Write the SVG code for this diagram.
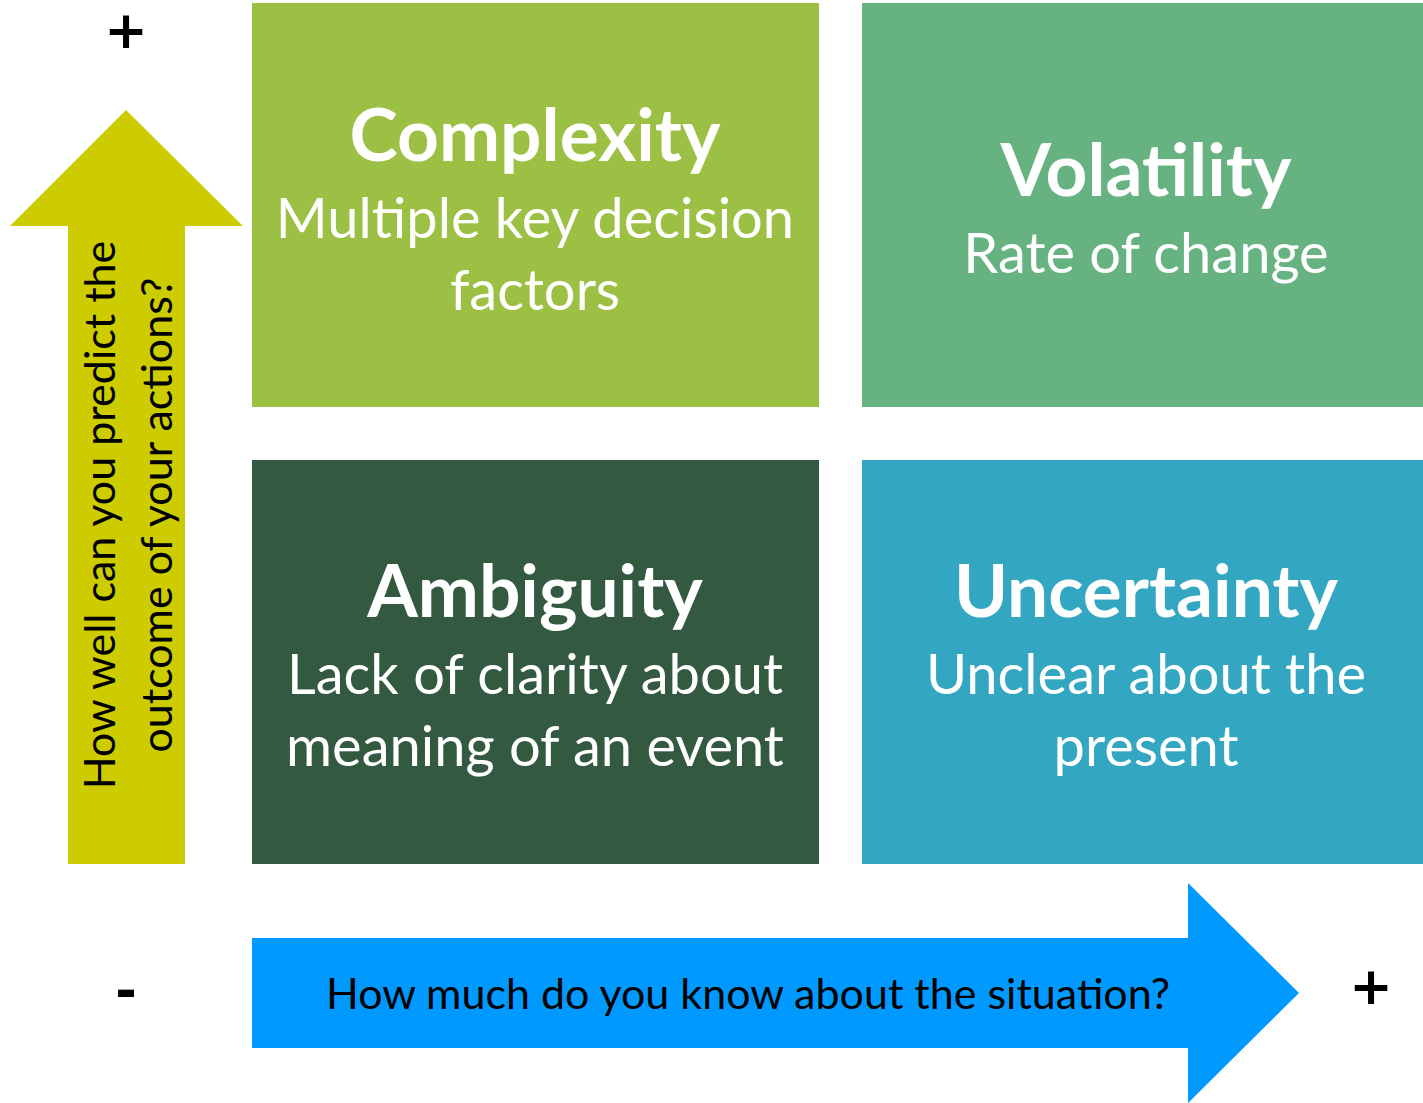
<svg xmlns="http://www.w3.org/2000/svg" width="1423" height="1103" viewBox="0 0 1423 1103">
<style>
.t{font-family:Lato,"Open Sans","Liberation Sans",sans-serif;fill:#fff;text-anchor:middle}
.h{font-weight:bold;font-size:73px}
.s{font-size:56px}
.a{font-family:Lato,"Open Sans","Liberation Sans",sans-serif;fill:#000;text-anchor:middle;font-size:43px}
.sym{font-family:"DejaVu Sans",sans-serif;font-weight:bold;fill:#000;text-anchor:middle;font-size:52px}
</style>
<rect width="1423" height="1103" fill="#fff"/>
<g id="connectors">
<g id="axis-y">
<polygon points="126,110 243,226 185,226 185,864 68,864 68,226 10,226" fill="#CCCC00"/>
<text class="a" transform="translate(115,515) rotate(-90)">How well can you predict the</text>
<text class="a" transform="translate(172,515) rotate(-90)">outcome of your actions?</text>
</g>
<g id="axis-x">
<polygon points="252,938 1188,938 1188,883 1299,993 1188,1103 1188,1048 252,1048" fill="#0099FF"/>
<text class="a" x="748" y="1009">How much do you know about the situation?</text>
</g>
</g>
<g id="labels">
<text class="sym" x="126" y="48">+</text>
<text class="sym" x="1371" y="1004">+</text>
<text class="sym" x="126" y="1008">-</text>
</g>
<g id="complexity">
<rect x="252" y="3" width="567" height="404" fill="#9BC043"/>
<text class="t h" x="535" y="161">Complexity</text>
<text class="t s" x="535" y="238">Multiple key decision</text>
<text class="t s" x="535" y="310">factors</text>
</g>
<g id="volatility">
<rect x="862" y="3" width="561" height="404" fill="#66B281"/>
<text class="t h" x="1146" y="196">Volatility</text>
<text class="t s" x="1146" y="273">Rate of change</text>
</g>
<g id="ambiguity">
<rect x="252" y="460" width="567" height="404" fill="#335940"/>
<text class="t h" x="535" y="617">Ambiguity</text>
<text class="t s" x="535" y="694">Lack of clarity about</text>
<text class="t s" x="535" y="766">meaning of an event</text>
</g>
<g id="uncertainty">
<rect x="862" y="460" width="561" height="404" fill="#33A6C2"/>
<text class="t h" x="1146" y="617">Uncertainty</text>
<text class="t s" x="1146" y="694">Unclear about the</text>
<text class="t s" x="1146" y="766">present</text>
</g>
</svg>
